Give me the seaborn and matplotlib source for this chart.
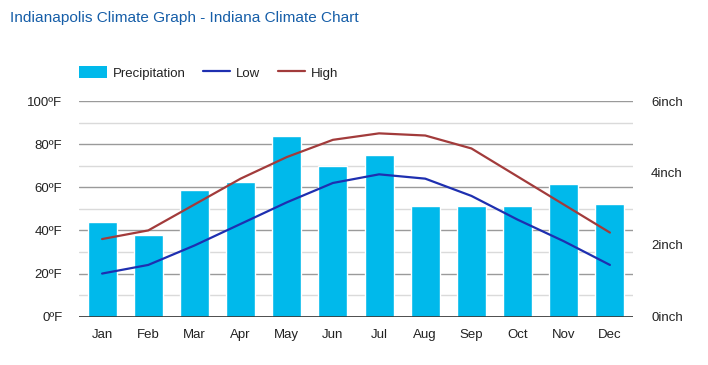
import matplotlib
matplotlib.use("Agg")
import numpy as np
import pandas as pd
import matplotlib.pyplot as plt
import seaborn as sns
from matplotlib.patches import Patch
from matplotlib.lines import Line2D

# Data
months = ['Jan', 'Feb', 'Mar', 'Apr', 'May', 'Jun', 'Jul', 'Aug', 'Sep', 'Oct', 'Nov', 'Dec']
precip_inch = [2.64, 2.28, 3.53, 3.76, 5.04, 4.20, 4.50, 3.09, 3.09, 3.09, 3.70, 3.14]
low_f = [20, 24, 33, 43, 53, 62, 66, 64, 56, 45, 35, 24]
high_f = [36, 40, 52, 64, 74, 82, 85, 84, 78, 65, 52, 39]
temp_ticks = [0, 20, 40, 60, 80, 100]
precip_ticks = [0, 2, 4, 6]

BAR = '#00b9eb'
LOW = '#1e2fb0'
HIGH = '#a23b3b'
TXT = '#222222'

sns.set_theme(style="white")
plt.rcParams['font.family'] = ['Liberation Sans', 'DejaVu Sans']

df = pd.DataFrame({'month': months, 'idx': np.arange(len(months)),
                   'precip': precip_inch, 'low': low_f, 'high': high_f})

fig = plt.figure(figsize=(7.08, 3.65), dpi=100)
ax = fig.add_axes([79 / 708, 1 - 316.7 / 365, (633 - 79) / 708, (316.7 - 101) / 365])

# gridlines every 10F (dark every 20F), drawn behind the bars
for i, t in enumerate(range(0, 101, 10)):
    ax.axhline(t * 6 / 100, color='#9a9a9a' if i % 2 == 0 else '#dadada', lw=1, zorder=0)

sns.barplot(data=df, x='month', y='precip', color=BAR, saturation=1, width=0.63, ax=ax, zorder=2)
ax.axhline(0, color='#333333', lw=1.2, zorder=3)
ax.set_ylim(0, 6)
ax.set_xlim(-0.5, len(months) - 0.5)
ax.set_xlabel('')
ax.set_ylabel('')
for s in ax.spines.values():
    s.set_visible(False)

# temperature lines on a twin axis, labels on the left
ax2 = ax.twinx()
sns.lineplot(data=df, x='idx', y='low', color=LOW, lw=1.6, ax=ax2)
sns.lineplot(data=df, x='idx', y='high', color=HIGH, lw=1.6, ax=ax2)
ax2.set_ylim(0, 100)
ax2.set_xlim(-0.5, len(months) - 0.5)
ax2.yaxis.tick_left()
ax2.set_yticks(temp_ticks, [f'{v}ºF' for v in temp_ticks])
ax2.tick_params(axis='y', length=0, pad=12, labelsize=9.5, labelcolor=TXT)
ax2.set_xlabel('')
ax2.set_ylabel('')
ax2.grid(False)
for s in ax2.spines.values():
    s.set_visible(False)

# precipitation labels on the right (after twinx, which resets them)
ax.yaxis.tick_right()
ax.set_yticks(precip_ticks, [f'{v}inch' for v in precip_ticks])
ax.tick_params(axis='y', left=False, labelleft=False, right=False, labelright=True,
               length=0, pad=13, labelsize=9.5, labelcolor=TXT)
ax.set_xticks(range(len(months)), months)
ax.tick_params(axis='x', length=0, pad=9, labelsize=9.5, labelcolor=TXT)

handles = [Patch(facecolor=BAR, edgecolor='none'),
           Line2D([], [], color=LOW, lw=1.6),
           Line2D([], [], color=HIGH, lw=1.6)]
fig.legend(handles, ['Precipitation', 'Low', 'High'], loc='center left',
           bbox_to_anchor=(67 / 708, 1 - 73 / 365), ncol=3, frameon=False,
           fontsize=9.5, handlelength=2.1, handleheight=1.0, handletextpad=0.45,
           columnspacing=1.3, labelcolor=TXT)

fig.text(10 / 708, 1 - 18 / 365, 'Indianapolis Climate Graph - Indiana Climate Chart',
         fontsize=11.1, color='#165ea8', va='center', ha='left')

fig.savefig('out.png', dpi=100)
